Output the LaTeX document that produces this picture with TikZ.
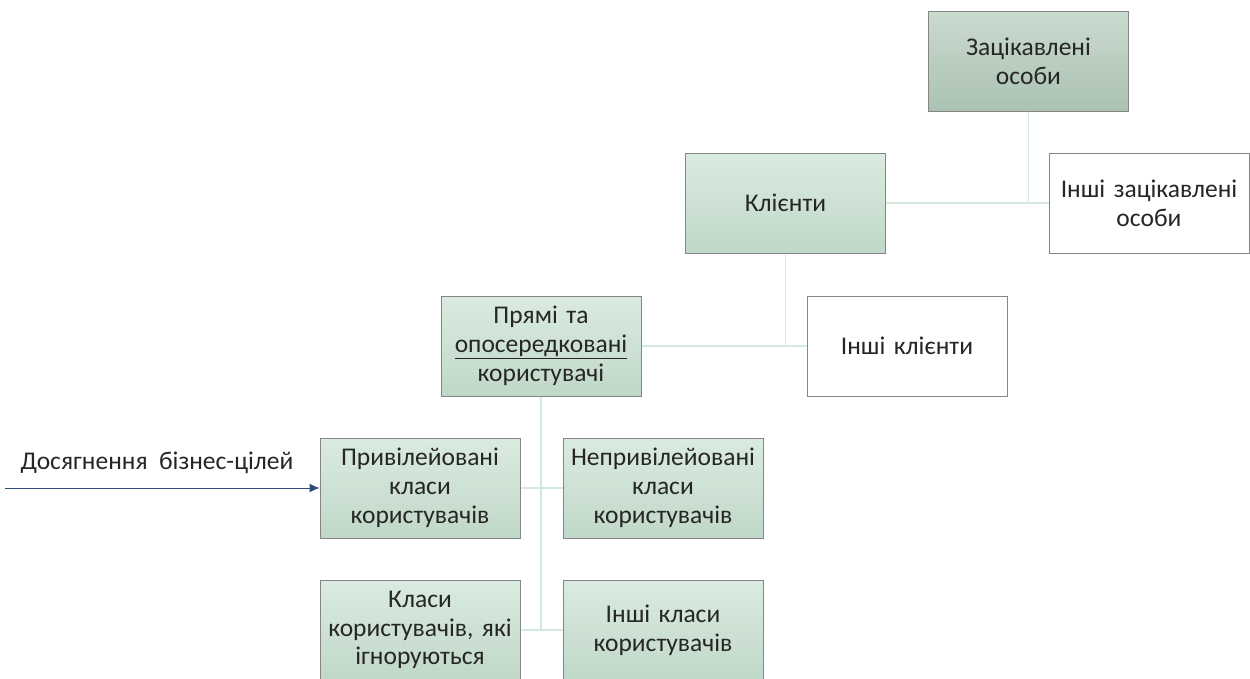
\documentclass[tikz,border=0pt]{standalone}
\usepackage{fontspec}
\setmainfont{Carlito}
\usetikzlibrary{arrows.meta}
\definecolor{gtop}{HTML}{DAEBE0}
\definecolor{gbot}{HTML}{C0D8C8}
\definecolor{dtop}{HTML}{CADBCF}
\definecolor{dbot}{HTML}{ABC2B2}
\definecolor{linkc}{HTML}{D2E9DB}
\definecolor{goalc}{HTML}{2F4B7C}
\definecolor{frame}{HTML}{858585}
\begin{document}
\begin{tikzpicture}[x=1pt,y=-1pt,
  box/.style={draw=frame, line width=1pt, minimum width=200pt, minimum height=100pt,
    inner sep=2pt, align=center, text width=196pt,
    font=\fontsize{25.5pt}{28.8pt}\selectfont, text=black!85},
  greenbox/.style={box, top color=gtop, bottom color=gbot},
  darkbox/.style={box, top color=dtop, bottom color=dbot},
  whitebox/.style={box, fill=white},
  link/.style={draw=linkc, line width=1.5pt},
  goal/.style={draw=goalc, line width=1pt, -{Latex[length=10pt,width=9pt]}}]
\useasboundingbox (0,0) rectangle (1250,678);

% top level
\node[darkbox]  (stake)  at (1028.5,61)  {Зацікавлені\\особи};
\node[whitebox] (ostake) at (1149,203)   {Інші зацікавлені\\особи};
\node[greenbox] (client) at (785.5,203)  {Клієнти};

% second level
\node[greenbox] (users)   at (541,346)  {Прямі та\\\underline{опосередковані}\\користувачі};
\node[whitebox] (oclient) at (907,346)  {Інші клієнти};

% user classes
\node[greenbox] (priv)   at (420,488) {Привілейовані\\класи\\користувачів};
\node[greenbox] (npriv)  at (663,488) {Непривілейовані\\класи\\користувачів};
\node[greenbox] (ign)    at (420,630) {Класи\\користувачів, які\\ігноруються};
\node[greenbox] (oclass) at (663,630) {Інші класи\\користувачів};

% connectors
\coordinate (j1) at (stake.south |- client.east);
\draw[link] (stake.south) -- (j1);
\draw[link] (client.east) -- (ostake.west);

\coordinate (j2) at (client.south |- users.east);
\draw[link] (client.south) -- (j2);
\draw[link] (users.east) -- (oclient.west);

\coordinate (j3) at (users.south |- ign.east);
\draw[link] (users.south) -- (j3);
\draw[link] (priv.east) -- (npriv.west);
\draw[link] (ign.east) -- (oclass.west);

% business goal arrow
\coordinate (start) at (5,488);
\draw[goal] (start) -- (priv.west);
\node[font=\fontsize{25.5pt}{28.8pt}\selectfont, text=black!85, anchor=base west] (goaltxt) at (17,469) {Досягнення\ \ бізнес-цілей};
\end{tikzpicture}
\end{document}
